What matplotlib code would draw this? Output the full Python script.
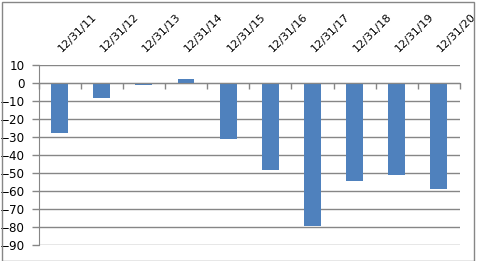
import numpy as np
import matplotlib
matplotlib.use("Agg")
from matplotlib import pyplot as plt
from matplotlib.patches import Rectangle
from matplotlib.transforms import ScaledTranslation

# data
dates = ['12/31/11', '12/31/12', '12/31/13', '12/31/14', '12/31/15',
         '12/31/16', '12/31/17', '12/31/18', '12/31/19', '12/31/20']
values = [-27.6, -8.2, -0.9, 2.4, -31.0, -48.3, -79.4, -54.4, -51.0, -58.9]
yticks = list(range(-90, 11, 10))

grey = '#868686'
blue = '#4F81BD'

plt.rcParams['font.family'] = 'DejaVu Sans'
plt.rcParams['font.size'] = 8

fig = plt.figure(figsize=(4.8, 2.61), dpi=100)
ax = fig.add_axes([38.5/480, 1 - 245.3/261, (460 - 38.5)/480, 180/261])

x = np.arange(len(dates))
ax.bar(x, values, width=0.4, color=blue, zorder=3)

ax.set_xlim(-0.5, len(dates) - 0.5)
ax.set_ylim(-90, 10)
ax.set_yticks(yticks)
ax.yaxis.grid(True, color=grey, linewidth=1.0, zorder=0)
ax.set_axisbelow(True)

# x axis sits on zero, ticks between categories
for s in ['top', 'right']:
    ax.spines[s].set_visible(False)
ax.spines['left'].set_color(grey)
ax.spines['bottom'].set_position(('data', 0))
ax.spines['bottom'].set_color(grey)
ax.spines['bottom'].set_zorder(4)
ax.set_xticks(np.arange(-0.5, len(dates), 1.0))
ax.set_xticklabels([])
ax.tick_params(axis='x', direction='out', length=4, color=grey, width=1)
ax.tick_params(axis='y', direction='out', length=5, color=grey, width=1, pad=5,
               labelcolor='black', labelsize=8.6)

# frame around the whole chart
frame = Rectangle((1.5/480, 1 - 260.5/261), 472/480, 259/261,
                  transform=fig.transFigure, fill=False, edgecolor=grey, linewidth=1.0)
fig.patches.append(frame)

# category labels above the plot
shift = ax.get_xaxis_transform() + ScaledTranslation(4/100, 12/100, fig.dpi_scale_trans)
for i, d in enumerate(dates):
    t = ax.text(i, 1.0, d, transform=shift, rotation=45,
                rotation_mode='anchor', ha='left', va='bottom', color='black')
    t.set_clip_path(frame)
    t.set_clip_on(True)

fig.savefig('out.png', dpi=100)
